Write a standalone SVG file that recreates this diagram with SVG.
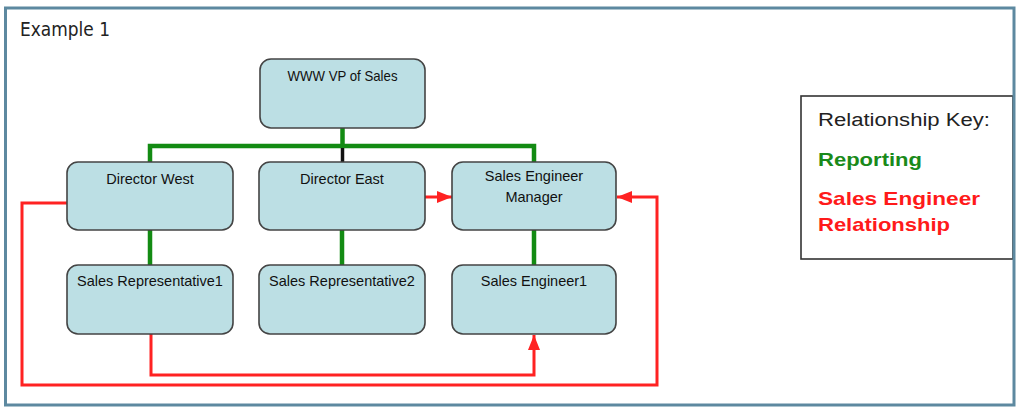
<svg xmlns="http://www.w3.org/2000/svg" width="1024" height="414" viewBox="0 0 1024 414">
<style>
.node rect{fill:#bcdfe4;stroke:#444;stroke-width:1.6}
.node text{font-family:"Liberation Sans",Arial,sans-serif;font-size:14.5px;fill:#111;text-anchor:middle}
.green{stroke:#138b13;stroke-width:4.5;fill:none}
.red{stroke:#ff2222;stroke-width:3;fill:none}
.key{font-family:"Liberation Sans",Arial,sans-serif}
</style>
<defs>
<marker id="ah" markerUnits="userSpaceOnUse" markerWidth="16" markerHeight="14" refX="15" refY="7" orient="auto">
<path d="M0,1 L15,7 L0,13 Z" fill="#ff2222"/>
</marker>
</defs>
<rect x="0" y="0" width="1024" height="414" fill="#fff"/>
<text x="20" y="36" font-family="'DejaVu Sans',sans-serif" font-size="19" fill="#222" textLength="90" lengthAdjust="spacingAndGlyphs">Example 1</text>

<g id="connectors">
<path class="green" d="M342.5,128 V146 M150,162 V146 H534 V162"/>
<path d="M342.5,148 V162" stroke="#111" stroke-width="3.5"/>
<path class="green" d="M150,230 V265 M342,230 V265 M534,230 V265"/>
<path class="red" d="M425,197 H452" marker-end="url(#ah)"/>
<path class="red" d="M67,203 H22 V385 H657 V197 H617" marker-end="url(#ah)"/>
<path class="red" d="M151,334 V375 H534 V335" marker-end="url(#ah)"/>
</g>

<g id="vp" class="node"><rect x="260" y="59" width="165" height="69" rx="11"/><text x="342.5" y="81" textLength="110" lengthAdjust="spacingAndGlyphs">WWW VP of Sales</text></g>
<g id="dw" class="node"><rect x="67" y="162" width="166" height="68" rx="11"/><text x="150" y="184">Director West</text></g>
<g id="de" class="node"><rect x="259" y="162" width="166" height="68" rx="11"/><text x="342" y="184">Director East</text></g>
<g id="sem" class="node"><rect x="452" y="162" width="164" height="68" rx="11"/><text x="534" y="181">Sales Engineer</text><text x="534" y="202">Manager</text></g>
<g id="sr1" class="node"><rect x="67" y="265" width="166" height="69" rx="11"/><text x="150" y="286">Sales Representative1</text></g>
<g id="sr2" class="node"><rect x="259" y="265" width="166" height="69" rx="11"/><text x="342" y="286">Sales Representative2</text></g>
<g id="se1" class="node"><rect x="452" y="265" width="164" height="69" rx="11"/><text x="534" y="286">Sales Engineer1</text></g>

<g id="legend">
<rect x="801" y="96" width="212" height="163" fill="#fff" stroke="#333" stroke-width="1.6"/>
<text class="key" x="818" y="126" font-size="18" fill="#222" textLength="172" lengthAdjust="spacingAndGlyphs">Relationship Key:</text>
<text class="key" x="818" y="166" font-size="19" font-weight="bold" fill="#1a8a1a" textLength="104" lengthAdjust="spacingAndGlyphs">Reporting</text>
<text class="key" x="818" y="205" font-size="19" font-weight="bold" fill="#ff1a1a" textLength="162" lengthAdjust="spacingAndGlyphs">Sales Engineer</text>
<text class="key" x="818" y="231" font-size="19" font-weight="bold" fill="#ff1a1a" textLength="132" lengthAdjust="spacingAndGlyphs">Relationship</text>
</g>

<rect x="5.5" y="8" width="1008.5" height="397" fill="none" stroke="#5d89a0" stroke-width="3"/>
</svg>
